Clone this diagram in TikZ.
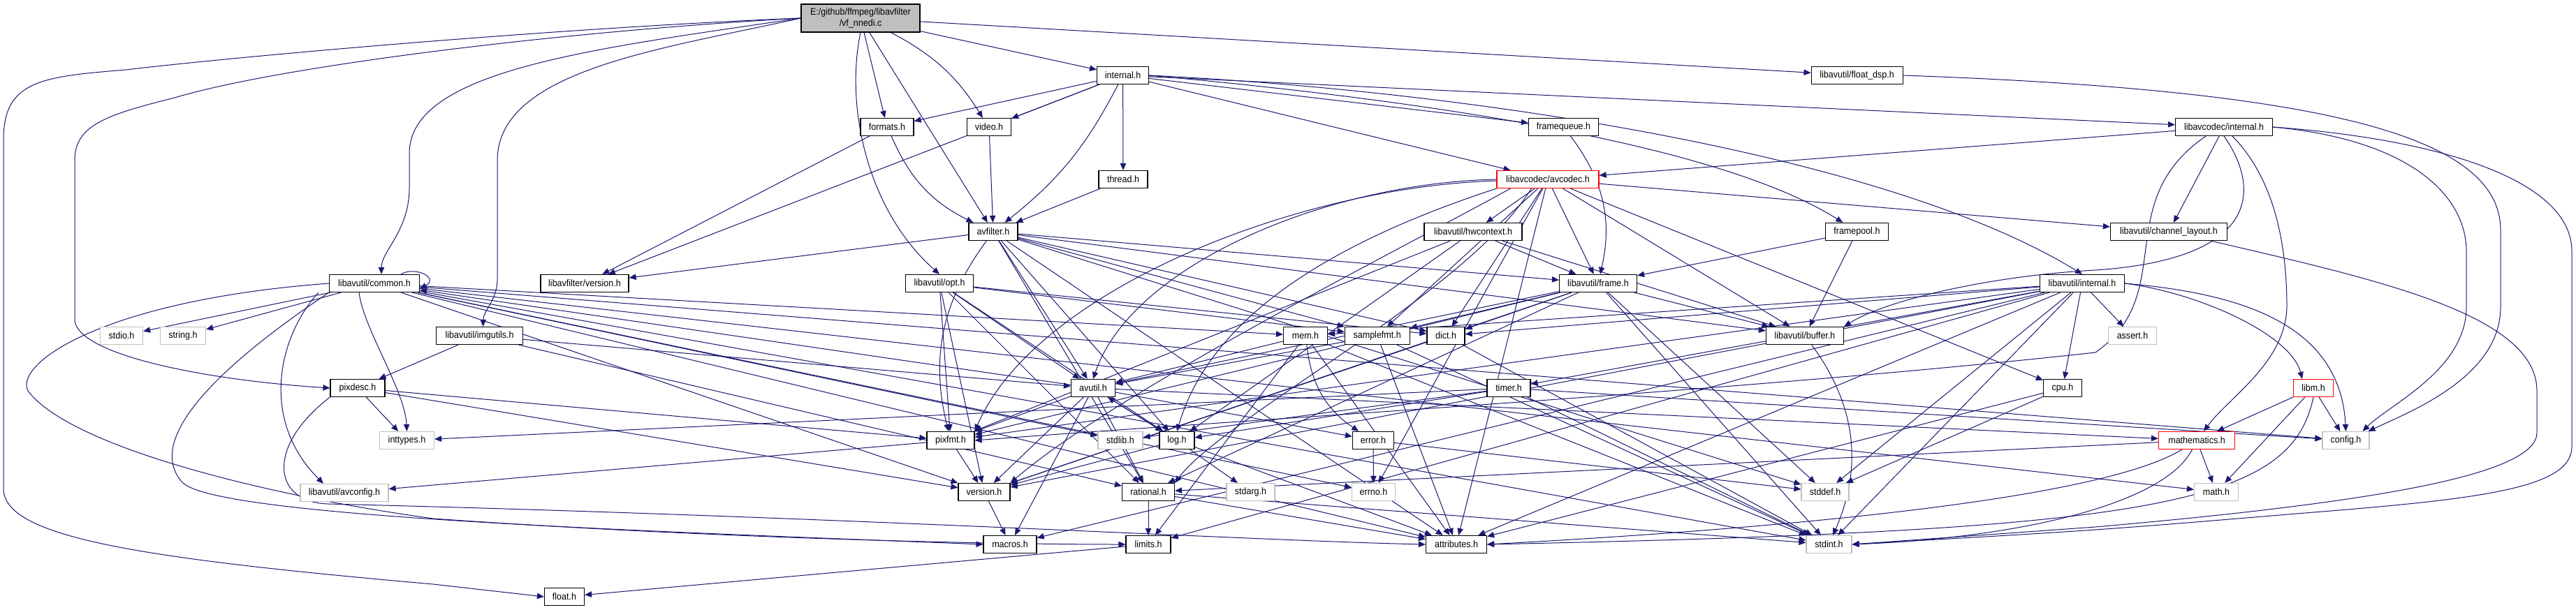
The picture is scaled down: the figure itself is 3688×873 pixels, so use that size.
\documentclass[tikz,border=0pt]{standalone}
\usepackage{fontspec}
\setmainfont{Liberation Sans}[FakeStretch=0.92]
\usetikzlibrary{arrows.meta}
\pgfdeclarelayer{bg}\pgfdeclarelayer{edges}
\pgfsetlayers{bg,edges,main}
\definecolor{edgec}{HTML}{191970}
\definecolor{grayb}{HTML}{BFBFBF}
\begin{document}
\begin{tikzpicture}[x=0.5pt,y=-0.5pt,
 nd/.style={draw=black,line width=0.6pt,fill=white,minimum height=12.5pt,inner sep=0pt,font=\fontsize{6.8pt}{7.6pt}\selectfont},
 ex/.style={nd,draw=grayb},
 rd/.style={nd,draw=red},
 e/.style={draw=edgec,line width=0.5pt,-{Triangle[length=5pt,width=4.2pt]}}]
\begin{pgfonlayer}{bg}
\fill[white] (0,0) rectangle (3688,873);
\end{pgfonlayer}
\useasboundingbox (0,0) rectangle (3688,873);
% nodes
\node[nd,fill=grayb,minimum width=85pt,minimum height=20pt,align=center] (root) at (1232,26) {E:/github/ffmpeg/libavfilter\\/vf\_nnedi.c};
\node[nd,minimum width=37pt] (lfint) at (1607.6,108) {internal.h};
\node[nd,minimum width=65.5pt] (fdsp) at (2658.6,108) {libavutil/float\_dsp.h};
\node[nd,minimum width=38pt] (formats) at (1270,182) {formats.h};
\node[nd,minimum width=31.5pt] (video) at (1416,182) {video.h};
\node[nd,minimum width=50pt] (fq) at (2238.5,182) {framequeue.h};
\node[nd,minimum width=69.5pt] (lcint) at (3184,182) {libavcodec/internal.h};
\node[nd,minimum width=35pt] (thread) at (1608,257) {thread.h};
\node[rd,minimum width=73pt] (avcodec) at (2216,257) {libavcodec/avcodec.h};
\node[nd,minimum width=35pt] (avfilter) at (1422,332) {avfilter.h};
\node[nd,minimum width=70pt] (hwctx) at (2109,332) {libavutil/hwcontext.h};
\node[nd,minimum width=45pt] (fpool) at (2658.4,332) {framepool.h};
\node[nd,minimum width=83.5pt] (chlay) at (3105,332) {libavutil/channel\_layout.h};
\node[nd,minimum width=64.5pt] (common) at (536,406) {libavutil/common.h};
\node[nd,minimum width=63pt] (lfver) at (837,406) {libavfilter/version.h};
\node[nd,minimum width=48.5pt] (opt) at (1345,406) {libavutil/opt.h};
\node[nd,minimum width=55.5pt] (frame) at (2288,406) {libavutil/frame.h};
\node[nd,minimum width=60.5pt] (luint) at (2981,406) {libavutil/internal.h};
\node[ex,minimum width=30.5pt] (stdio) at (174,481) {stdio.h};
\node[ex,minimum width=32.5pt] (string) at (262,481) {string.h};
\node[nd,minimum width=62pt] (imgutils) at (686.6,481) {libavutil/imgutils.h};
\node[nd,minimum width=31.5pt] (mem) at (1869,481) {mem.h};
\node[nd,minimum width=46.5pt] (samplefmt) at (1971.7,481) {samplefmt.h};
\node[nd,minimum width=27pt] (dict) at (2070,481) {dict.h};
\node[nd,minimum width=55.5pt] (buffer) at (2584,481) {libavutil/buffer.h};
\node[ex,minimum width=34.5pt] (asserth) at (3053,481) {assert.h};
\node[nd,minimum width=39pt] (pixdesc) at (512,556) {pixdesc.h};
\node[nd,minimum width=31.5pt] (avutil) at (1565,556) {avutil.h};
\node[nd,minimum width=31pt] (timer) at (2160,556) {timer.h};
\node[nd,minimum width=27.5pt] (cpu) at (2953,556) {cpu.h};
\node[rd,minimum width=28.5pt] (libm) at (3312,556) {libm.h};
\node[ex,minimum width=39pt] (inttypes) at (582.5,631) {inttypes.h};
\node[nd,minimum width=34pt] (pixfmt) at (1361,631) {pixfmt.h};
\node[ex,minimum width=32pt] (stdlib) at (1604,631) {stdlib.h};
\node[nd,minimum width=25pt] (logh) at (1685,631) {log.h};
\node[nd,minimum width=29.5pt] (errorh) at (1966,631) {error.h};
\node[rd,minimum width=54.5pt] (mathematics) at (3145,631) {mathematics.h};
\node[ex,minimum width=33.5pt] (config) at (3358.5,631) {config.h};
\node[ex,minimum width=63pt] (avconfig) at (493,706) {libavutil/avconfig.h};
\node[nd,minimum width=37pt] (version) at (1409,705) {version.h};
\node[nd,minimum width=37.5pt] (rational) at (1644,705) {rational.h};
\node[ex,minimum width=34.5pt] (stdarg) at (1790.5,705) {stdarg.h};
\node[ex,minimum width=31pt] (errnoh) at (1966.5,705) {errno.h};
\node[ex,minimum width=34pt] (stddef) at (2613,705) {stddef.h};
\node[ex,minimum width=31.5pt] (mathh) at (3173,705) {math.h};
\node[nd,minimum width=38pt] (macros) at (1446,780) {macros.h};
\node[nd,minimum width=32pt] (limits) at (1644,780) {limits.h};
\node[nd,minimum width=43.5pt] (attributes) at (2085,780) {attributes.h};
\node[ex,minimum width=32.5pt] (stdint) at (2618.5,780) {stdint.h};
\node[nd,minimum width=28.5pt] (floath) at (808,855) {float.h};
\begin{pgfonlayer}{edges}
% root
\draw[e] (root.west) .. controls (800,40) and (350,80) .. (180,100) .. controls (60,110) and (5,115) .. (5,200) -- (5,700) .. controls (5,770) and (200,800) .. (620,837) -- (floath.west);
\draw[e] (root.west) .. controls (800,45) and (400,95) .. (250,140) .. controls (150,165) and (107,180) .. (107,230) -- (107,460) .. controls (115,510) and (300,545) .. (pixdesc.west);
\draw[e] (root.west) .. controls (850,70) and (586,100) .. (586,220) -- (586,270) .. controls (586,330) and (546,360) .. ([xshift=5pt]common.north);
\draw[e] (root.west) .. controls (950,70) and (712,100) .. (712,230) -- (712,400) .. controls (712,430) and (692,445) .. ([xshift=2.5pt]imgutils.north);
\draw[e] (root.south) .. controls (1210,150) and (1240,300) .. (opt.north);
\draw[e] (root) -- (formats);
\draw[e] (root) -- (avfilter);
\draw[e] (root) to[bend left=15] (video);
\draw[e] (root) -- (lfint);
\draw[e] (root) -- (fdsp);
% libavfilter/internal.h
\draw[e] (lfint) -- (formats);
\draw[e] (lfint) -- (video);
\draw[e] (lfint) -- (lfver);
\draw[e] (lfint) to[bend left=12] (avfilter);
\draw[e] (lfint) -- (thread);
\draw[e] (lfint) -- (fq);
\draw[e] (lfint) -- (avcodec);
\draw[e] (lfint) -- (lcint);
\draw[e] (lfint.east) .. controls (2100,130) and (2700,220) .. (luint.north);
\draw[e] (lfint.east) .. controls (2000,140) and (2450,200) .. ([xshift=-10pt]fpool.north);
\draw[e] (formats) to[bend right=20] (avfilter);
\draw[e] (formats) -- (lfver);
\draw[e] (video) -- (avfilter);
\draw[e] (thread) -- (avfilter);
\draw[e] (fq) to[bend left=25] (frame);
\draw[e] (fpool) -- (buffer);
\draw[e] (fpool) -- (frame);
% avfilter.h
\draw[e] (avfilter) -- (lfver);
\draw[e] (avfilter) to[bend right=25] (pixfmt);
\draw[e] (avfilter) -- (avutil);
\draw[e] (avfilter) -- (logh);
\draw[e] (avfilter) -- (rational);
\draw[e] (avfilter) -- (dict);
\draw[e] (avfilter) -- (samplefmt);
\draw[e] (avfilter) -- (frame);
\draw[e] (avfilter) -- (buffer);
\draw[e] (avfilter) -- (stddef);
\draw[e] (avfilter) -- (attributes);
% opt.h
\draw[e] (opt) -- (rational);
\draw[e] (opt) -- (avutil);
\draw[e] (opt) -- (dict);
\draw[e] (opt) -- (logh);
\draw[e] (opt) -- (pixfmt);
\draw[e] (opt) -- (samplefmt);
\draw[e] (opt) -- (version);
% common.h
\draw[e] (common) -- (stdio);
\draw[e] (common) -- (string);
\draw[e] ([xshift=-40pt]common.south) .. controls (400,480) and (370,600) .. ([xshift=-15pt]avconfig.north);
\draw[e] ([xshift=-11pt]common.south) .. controls (520,470) and (580,560) .. (inttypes.north);
\draw[e] (common) -- (stdlib);
\draw[e] (common) -- (errnoh);
\draw[e] (common.west) .. controls (150,430) and (20,520) .. (40,560) .. controls (100,640) and (380,710) .. (620,743) .. controls (1000,770) and (1400,780) .. (limits.west);
\draw[e] (common) -- (mathh);
\draw[e] (common) -- (stdint);
\draw[e] (common) -- (attributes);
\draw[e] (common.south west) .. controls (350,500) and (200,620) .. (260,690) .. controls (300,740) and (900,760) .. (macros.west);
\draw[e] (common) -- (version);
\draw[e] (common) -- (config);
\draw[e] (common) -- (mem);
\draw[e] ([xshift=-13.5pt]common.north east) .. controls +(10pt,6pt) and +(14pt,8pt) .. ([yshift=-4pt]common.east);
% avcodec.h
\draw[e] (avcodec) -- (errnoh);
\draw[e] (avcodec) -- (samplefmt);
\draw[e] (avcodec) -- (attributes);
\draw[e] (avcodec.west) .. controls (1900,262) and (1620,380) .. (avutil.north);
\draw[e] (avcodec) -- (buffer);
\draw[e] (avcodec) -- (cpu);
\draw[e] (avcodec) -- (chlay);
\draw[e] (avcodec) -- (dict);
\draw[e] (avcodec) -- (frame);
\draw[e] (avcodec) -- (hwctx);
\draw[e] (avcodec.south west) .. controls (1960,330) and (1740,430) .. (logh.north);
\draw[e] ([yshift=-1pt]avcodec.west) .. controls (1850,268) and (1480,420) .. (pixfmt.north east);
\draw[e] ([xshift=25pt]avcodec.south west) .. controls (2100,420) and (1750,600) .. (rational.north east);
\draw[e] ([xshift=10pt]avcodec.south west) .. controls (2000,360) and (1600,560) .. (version.north east);
% hwcontext.h
\draw[e] (hwctx) -- (buffer);
\draw[e] (hwctx) -- (frame);
\draw[e] (hwctx) -- (logh);
\draw[e] (hwctx) -- (pixfmt);
% frame.h
\draw[e] (frame) -- (stddef);
\draw[e] (frame) -- (stdint);
\draw[e] (frame) -- (avutil);
\draw[e] (frame) -- (buffer);
\draw[e] (frame) -- (dict);
\draw[e] (frame) -- (rational);
\draw[e] (frame) -- (samplefmt);
\draw[e] (frame) -- (pixfmt);
\draw[e] (frame) -- (version);
% float_dsp.h
\draw[e] (fdsp.east) .. controls (3350,130) and (3580,200) .. (3580,330) -- (3580,440) .. controls (3580,540) and (3450,590) .. ([xshift=16pt]config.north);
% libavcodec/internal.h
\draw[e] (lcint) -- (avcodec);
\draw[e] (lcint) -- (chlay);
\draw[e] ([xshift=6pt]lcint.south) .. controls (3260,260) and (3274,360) .. (3274,440) .. controls (3272,520) and (3190,570) .. ([xshift=5pt]mathematics.north);
\draw[e] (lcint.east) .. controls (3450,200) and (3531,280) .. (3531,360) -- (3531,440) .. controls (3531,530) and (3420,580) .. ([xshift=12pt]config.north);
\draw[e] (lcint.east) .. controls (3500,200) and (3682,260) .. (3682,360) -- (3682,640) .. controls (3682,700) and (3550,715) .. (3300,735) .. controls (3000,760) .. (stdint.east);
\draw[e] (lcint.south) .. controls (3230,260) and (3250,370) .. (3000,387) .. controls (2850,395) and (2700,430) .. (buffer.north east);
\draw[e] ([xshift=-13pt]lcint.south) .. controls (3020,290) and (3120,420) .. (3000,505) .. controls (2500,560) and (1800,600) .. (pixfmt.east);
% libavutil/internal.h
\draw[e] (luint) -- (limits);
\draw[e] (luint) -- (stdint);
\draw[e] (luint) -- (stddef);
\draw[e] (luint) -- (asserth);
\draw[e] (luint.east) .. controls (3200,420) and (3350,460) .. (config.north);
\draw[e] (luint) -- (attributes);
\draw[e] (luint) -- (timer);
\draw[e] (luint) -- (cpu);
\draw[e] (luint) -- (dict);
\draw[e] (luint) -- (macros);
\draw[e] (luint) -- (mem);
\draw[e] (luint) -- (pixfmt);
\draw[e] (luint) -- (version);
\draw[e] (luint.east) .. controls (3150,420) and (3280,480) .. ([xshift=-8pt]libm.north);
\draw[e] ([xshift=30pt]chlay.south) .. controls (3400,400) and (3632,450) .. (3632,560) -- (3632,620) .. controls (3632,680) and (3400,720) .. (3000,755) -- (stdint.east);
% pixdesc, imgutils, pixfmt
\draw[e] (pixdesc) -- (inttypes);
\draw[e] (pixdesc.south west) .. controls (380,640) and (390,720) .. (470,722) .. controls (1200,740) and (1800,775) .. (attributes.west);
\draw[e] (pixdesc) -- (pixfmt);
\draw[e] (pixdesc) -- (version);
\draw[e] (imgutils) -- (pixdesc);
\draw[e] (imgutils) -- (avutil);
\draw[e] (imgutils) -- (rational);
\draw[e] (pixfmt) -- (avconfig);
\draw[e] (pixfmt) -- (version);
% avutil.h
\draw[e] (avutil) -- (common);
\draw[e] (avutil) -- (errorh);
\draw[e] (avutil) -- (rational);
\draw[e] (avutil) -- (version);
\draw[e] (avutil) -- (macros);
\draw[e] (avutil) -- (mathematics);
\draw[e] (avutil) -- (logh);
\draw[e] (avutil) -- (pixfmt);
% log.h
\draw[e] (logh) -- (stdarg);
\draw[e] (logh) -- (avutil);
\draw[e] (logh) -- (attributes);
\draw[e] (logh) -- (version);
\draw[e] (version) -- (macros);
\draw[e] (rational) -- (stdint);
\draw[e] (rational) -- (limits);
\draw[e] (rational) -- (attributes);
\draw[e] (limits) -- (floath);
% mem.h
\draw[e] (mem) -- (limits);
\draw[e] (mem) -- (stdint);
\draw[e] (mem) -- (attributes);
\draw[e] (mem) to[bend right=25] (errorh);
\draw[e] (mem) -- (avutil);
\draw[e] (samplefmt) -- (stdint);
\draw[e] (samplefmt) -- (avutil);
\draw[e] (samplefmt) -- (attributes);
\draw[e] (dict) -- (stdint);
\draw[e] (dict) -- (version);
% timer.h
\draw[e] (timer) -- (config);
\draw[e] (timer) -- (stdlib);
\draw[e] (timer) -- (stdint);
\draw[e] (timer) -- (inttypes);
\draw[e] (timer) -- (logh);
\draw[e] (errorh) -- (errnoh);
\draw[e] (errorh) -- (stddef);
\draw[e] (buffer) to[bend left=30] (stdint);
\draw[e] (cpu) -- (stddef);
\draw[e] (cpu) -- (attributes);
% libm, mathematics
\draw[e] (libm) -- (mathematics);
\draw[e] (libm) -- (mathh);
\draw[e] (libm.south) .. controls (3280,720) and (3100,760) .. (attributes.east);
\draw[e] (libm) -- (config);
\draw[e] (mathematics) .. controls (3100,720) and (2900,770) .. (stdint.east);
\draw[e] (mathematics) -- (mathh);
\draw[e] (mathematics) .. controls (3000,720) and (2500,760) .. (attributes.east);
\draw[e] (mathematics) -- (rational);
\end{pgfonlayer}
\end{tikzpicture}
\end{document}
